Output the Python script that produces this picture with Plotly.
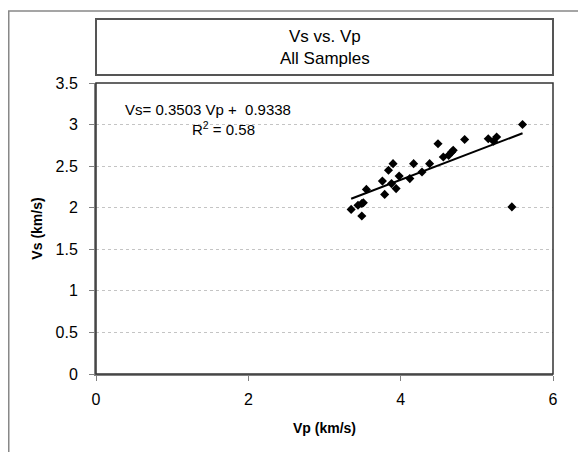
import plotly.graph_objects as go

# Vp / Vs samples (km/s)
vp = [3.35, 3.44, 3.49, 3.49, 3.51, 3.55, 3.76, 3.79, 3.84, 3.88, 3.90, 3.94,
      3.98, 4.12, 4.17, 4.28, 4.38, 4.49, 4.56, 4.63, 4.67, 4.69, 4.84, 5.15,
      5.22, 5.26, 5.46, 5.60]
vs = [1.98, 2.03, 1.90, 2.05, 2.06, 2.22, 2.32, 2.16, 2.45, 2.29, 2.53, 2.23,
      2.38, 2.35, 2.53, 2.43, 2.53, 2.77, 2.61, 2.63, 2.67, 2.69, 2.82, 2.83,
      2.80, 2.85, 2.01, 3.00]

# linear trendline from the chart
slope = 0.3503
intercept = 0.9338
r_squared = 0.58

x_ticks = [0, 2, 4, 6]
y_ticks = [0, 0.5, 1, 1.5, 2, 2.5, 3, 3.5]

font = "Liberation Sans, Arial, sans-serif"

fig = go.Figure()

fig.add_trace(
    go.Scatter(
        x=vp,
        y=vs,
        mode="markers",
        marker=dict(symbol="diamond", size=7, color="black"),
        showlegend=False,
    )
)

trend_x = [min(vp), max(vp)]
trend_y = [slope * v + intercept for v in trend_x]
fig.add_trace(
    go.Scatter(
        x=trend_x,
        y=trend_y,
        mode="lines",
        line=dict(color="black", width=2),
        showlegend=False,
    )
)

# outer frame, title box and plot border (page body adds an 8px offset)
fig.add_shape(type="rect", xref="paper", yref="paper",
              x0=-0.1909, x1=1.2, y0=-0.4, y1=1.2474,
              line=dict(color="#888888", width=1.5), layer="below")
fig.add_shape(type="rect", xref="paper", yref="paper",
              x0=0, x1=1, y0=1.0275, y1=1.22,
              line=dict(color="#555555", width=2))
fig.add_shape(type="rect", xref="paper", yref="paper",
              x0=0, x1=1, y0=0, y1=1,
              line=dict(color="#333333", width=1.5))

fig.add_annotation(
    text="Vs vs. Vp<br>All Samples",
    xref="paper", yref="paper", x=0.5, y=1.1203,
    xanchor="center", yanchor="middle",
    showarrow=False, font=dict(family=font, size=17, color="black"),
)
fig.add_annotation(
    text=f"Vs= {slope} Vp +\u00a0\u00a0{intercept}",
    xref="x", yref="y", x=1.47, y=3.18,
    showarrow=False, font=dict(family=font, size=15, color="black"),
)
fig.add_annotation(
    text=f"R<sup>2</sup> = {r_squared}",
    xref="x", yref="y", x=1.67, y=2.95,
    showarrow=False, font=dict(family=font, size=15, color="black"),
)

fig.update_xaxes(
    range=[0, 6], tickvals=x_ticks, showgrid=False, zeroline=False,
    showline=True, linecolor="#808080", linewidth=2,
    ticks="outside", ticklen=5, tickcolor="#808080", ticklabelstandoff=5,
    tickfont=dict(family=font, size=16, color="black"),
    title=dict(text="<b>Vp (km/s)</b>", font=dict(family=font, size=14, color="black"), standoff=16),
)
fig.update_yaxes(
    range=[0, 3.5], tickvals=y_ticks, zeroline=False,
    showgrid=True, gridcolor="#c4c4c4", griddash="dot", gridwidth=1,
    showline=True, linecolor="#808080", linewidth=2,
    ticks="outside", ticklen=5, tickcolor="#808080", ticklabelstandoff=8,
    tickfont=dict(family=font, size=16, color="black"),
    title=dict(text="<b>Vs (km/s)</b>", font=dict(family=font, size=14, color="black"), standoff=10),
)

fig.update_layout(
    width=586,
    height=452,
    margin=dict(l=88, r=41, t=75, b=86),
    paper_bgcolor="white",
    plot_bgcolor="white",
    font=dict(family=font),
)

fig.write_html("out.html")
